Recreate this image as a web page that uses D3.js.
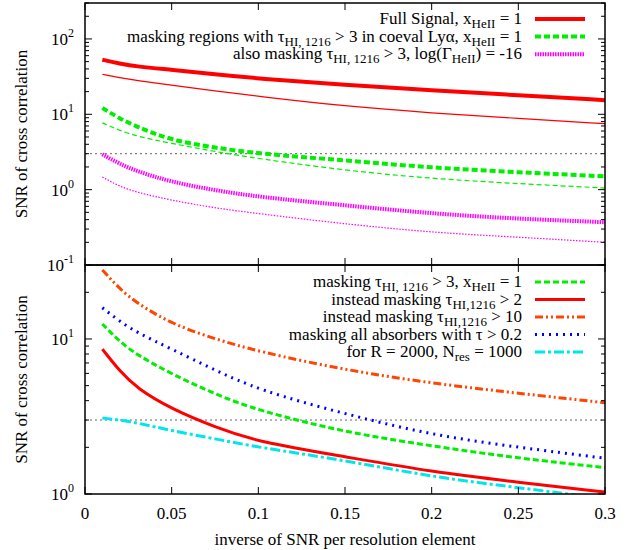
<!DOCTYPE html>
<meta charset="utf-8">
<body style="margin:0">
<script src="https://cdn.jsdelivr.net/npm/d3@7"></script>
<script>

// ---- data ----
const xVals = [0.01, 0.02, 0.03, 0.05, 0.075, 0.1, 0.15, 0.2, 0.25, 0.3];

// top panel
const fullThick  = [53, 47, 43, 39, 34, 29.8, 24.5, 20.8, 17.9, 15.4];
const fullThin   = [34, 30.5, 28, 24.3, 20.5, 17.3, 12.8, 10.4, 8.8, 7.5];
const maskThick  = [12.1, 8.8, 6.8, 4.5, 3.6, 3.0, 2.45, 1.95, 1.7, 1.5];
const maskThin   = [7.7, 6.1, 5.1, 4.1, 3.2, 2.58, 1.8, 1.4, 1.2, 1.05];
const gammaThick = [2.94, 2.2, 1.75, 1.26, 0.98, 0.8, 0.62, 0.48, 0.41, 0.37];
const gammaThin  = [1.47, 1.1, 0.92, 0.72, 0.57, 0.48, 0.35, 0.27, 0.234, 0.2];

// bottom panel
const maskTau3  = [12.5, 9.6, 7.9, 5.94, 4.4, 3.45, 2.5, 2.04, 1.7, 1.48];
const maskTau2  = [8.6, 6.2, 4.8, 3.53, 2.7, 2.16, 1.74, 1.39, 1.19, 1.03];
const maskTau10 = [27.9, 21, 17, 12.5, 10, 8.3, 6.3, 5.18, 4.46, 3.88];
const maskAll   = [15.9, 13, 11, 8.6, 6.3, 4.69, 3.28, 2.4, 2.0, 1.7];
const lowRes    = [3.09, 3.0, 2.88, 2.56, 2.27, 2.0, 1.65, 1.29, 1.1, 0.93];

const xTicks = [0, 0.05, 0.1, 0.15, 0.2, 0.25, 0.3];
const threshold = 3;

const topLabels = [
  [["Full Signal, x"], ["HeII", "sub"], [" = 1"]],
  [["masking regions with τ"], ["HI, 1216", "sub"], [" > 3 in coeval Lyα, x"], ["HeII", "sub"], [" = 1"]],
  [["also masking τ"], ["HI, 1216", "sub"], [" > 3, log(Γ"], ["HeII", "sub"], [") = -16"]]
];
const bottomLabels = [
  [["masking τ"], ["HI, 1216", "sub"], [" > 3, x"], ["HeII", "sub"], [" = 1"]],
  [["instead masking τ"], ["HI,1216", "sub"], [" > 2"]],
  [["instead masking τ"], ["HI,1216", "sub"], [" > 10"]],
  [["masking all absorbers with τ > 0.2"]],
  [["for R = 2000, N"], ["res", "sub"], [" = 1000"]]
];

// ---- setup ----
const width = 644, height = 550;
const left = 85, right = 605;
const serif = "Liberation Serif";
const topPanel = {y0: 3, y1: 265, domain: [0.1, 300]};
const botPanel = {y0: 265, y1: 494, domain: [1, 30]};

const svg = d3.select("body").append("svg")
  .attr("width", width)
  .attr("height", height)
  .attr("font-family", serif);

// every text gets the serif face set on itself
function addText(parent, size) {
  return parent.append("text")
    .attr("font-family", serif)
    .style("font-family", `"${serif}"`)
    .style("font-size", size + "px");
}

const x = d3.scaleLinear().domain([0, 0.3]).range([left, right]);
const yTop = d3.scaleLog().domain(topPanel.domain).range([topPanel.y1, topPanel.y0]);
const yBot = d3.scaleLog().domain(botPanel.domain).range([botPanel.y1, botPanel.y0]);

const styles = {
  fullThick:  {color: "#ff0000", w: 4,   dash: null},
  fullThin:   {color: "#ff0000", w: 1.2, dash: null},
  maskThick:  {color: "#00ee00", w: 4,   dash: "6,3"},
  maskThin:   {color: "#00ee00", w: 1.2, dash: "5,3"},
  gammaThick: {color: "#ff00ff", w: 4,   dash: "1.5,1"},
  gammaThin:  {color: "#ff00ff", w: 1.2, dash: "1.5,1.5"},
  tau3:  {color: "#00ee00", w: 3, dash: "6,3"},
  tau2:  {color: "#ff0000", w: 3, dash: null},
  tau10: {color: "#ff4500", w: 3, dash: "8,3,2,3,2,3"},
  all:   {color: "#0000ff", w: 3, dash: "2,5"},
  low:   {color: "#00e5ee", w: 3, dash: "10,3,3,3"}
};

function drawPanel(panel, y, series, labels, majors, minors, clipId) {
  const g = svg.append("g");

  g.append("clipPath").attr("id", clipId)
    .append("rect")
      .attr("x", left).attr("y", panel.y0)
      .attr("width", right - left).attr("height", panel.y1 - panel.y0);

  // threshold line
  g.append("line")
    .attr("x1", left).attr("x2", right)
    .attr("y1", y(threshold)).attr("y2", y(threshold))
    .attr("stroke", "#666").attr("stroke-width", 1)
    .attr("stroke-dasharray", "2,3");

  const line = d3.line()
    .x((d, i) => x(xVals[i]))
    .y(d => y(d))
    .curve(d3.curveBasis);

  const curves = g.append("g").attr("clip-path", `url(#${clipId})`);
  series.forEach(s => {
    curves.append("path")
      .attr("d", line(s.values))
      .attr("fill", "none")
      .attr("stroke", s.style.color)
      .attr("stroke-width", s.style.w)
      .attr("stroke-dasharray", s.style.dash);
  });

  // x ticks, inward on top and bottom
  xTicks.forEach(t => {
    g.append("line").attr("x1", x(t)).attr("x2", x(t))
      .attr("y1", panel.y0).attr("y2", panel.y0 + 7)
      .attr("stroke", "black");
    g.append("line").attr("x1", x(t)).attr("x2", x(t))
      .attr("y1", panel.y1).attr("y2", panel.y1 - 7)
      .attr("stroke", "black");
  });

  // y ticks, both sides
  majors.forEach(v => {
    [[left, left + 7], [right, right - 7]].forEach(([a, b]) => {
      g.append("line").attr("x1", a).attr("x2", b)
        .attr("y1", y(v)).attr("y2", y(v)).attr("stroke", "black");
    });
    const lab = addText(g, 17)
      .attr("x", 74).attr("y", y(v) + 6).attr("text-anchor", "end");
    lab.append("tspan").text("10");
    lab.append("tspan").text(Math.round(Math.log10(v)))
      .style("font-size", "12px").attr("dy", -8);
  });
  minors.forEach(v => {
    [[left, left + 4], [right, right - 4]].forEach(([a, b]) => {
      g.append("line").attr("x1", a).attr("x2", b)
        .attr("y1", y(v)).attr("y2", y(v)).attr("stroke", "black");
    });
  });

  // frame
  g.append("rect")
    .attr("x", left).attr("y", panel.y0)
    .attr("width", right - left).attr("height", panel.y1 - panel.y0)
    .attr("fill", "none").attr("stroke", "black").attr("stroke-width", 1.5);

  // legend
  labels.forEach((segs, i) => {
    const ly = panel.legendY + i * panel.legendStep;
    const t = addText(g, 17).attr("text-anchor", "end")
      .attr("x", 522).attr("y", ly + 5);
    let down = false;
    segs.forEach(([str, kind]) => {
      const ts = t.append("tspan").text(str);
      if (kind === "sub") { ts.style("font-size", "13px").attr("dy", 4); down = true; }
      else if (down) { ts.attr("dy", -4); down = false; }
    });
    const s = series[panel.legendOrder[i]].style;
    g.append("line")
      .attr("x1", 535).attr("x2", 585)
      .attr("y1", ly).attr("y2", ly)
      .attr("stroke", s.color)
      .attr("stroke-width", s.w)
      .attr("stroke-dasharray", s.dash);
  });

  // y title
  addText(g, 17).attr("text-anchor", "middle")
    .attr("transform", `translate(27, ${(panel.y0 + panel.y1) / 2}) rotate(-90)`)
    .text("SNR of cross correlation");
}

topPanel.legendY = 19; topPanel.legendStep = 17.6; topPanel.legendOrder = [0, 2, 4];
botPanel.legendY = 282; botPanel.legendStep = 17.5; botPanel.legendOrder = [0, 1, 2, 3, 4];

drawPanel(topPanel, yTop, [
    {values: fullThick,  style: styles.fullThick},
    {values: fullThin,   style: styles.fullThin},
    {values: maskThick,  style: styles.maskThick},
    {values: maskThin,   style: styles.maskThin},
    {values: gammaThick, style: styles.gammaThick},
    {values: gammaThin,  style: styles.gammaThin}
  ], topLabels,
  [0.1, 1, 10, 100],
  [0.2,0.3,0.4,0.5,0.6,0.7,0.8,0.9,2,3,4,5,6,7,8,9,20,30,40,50,60,70,80,90,200,300],
  "clipTop");

drawPanel(botPanel, yBot, [
    {values: maskTau3,  style: styles.tau3},
    {values: maskTau2,  style: styles.tau2},
    {values: maskTau10, style: styles.tau10},
    {values: maskAll,   style: styles.all},
    {values: lowRes,    style: styles.low}
  ], bottomLabels,
  [1, 10],
  [2,3,4,5,6,7,8,9,20,30],
  "clipBot");

// x tick labels and title
xTicks.forEach(t => {
  addText(svg, 17).attr("text-anchor", "middle")
    .attr("x", x(t)).attr("y", 519)
    .text(t);
});
addText(svg, 17).attr("text-anchor", "middle")
  .attr("x", (left + right) / 2).attr("y", 545)
  .text("inverse of SNR per resolution element");

</script>
</body>
